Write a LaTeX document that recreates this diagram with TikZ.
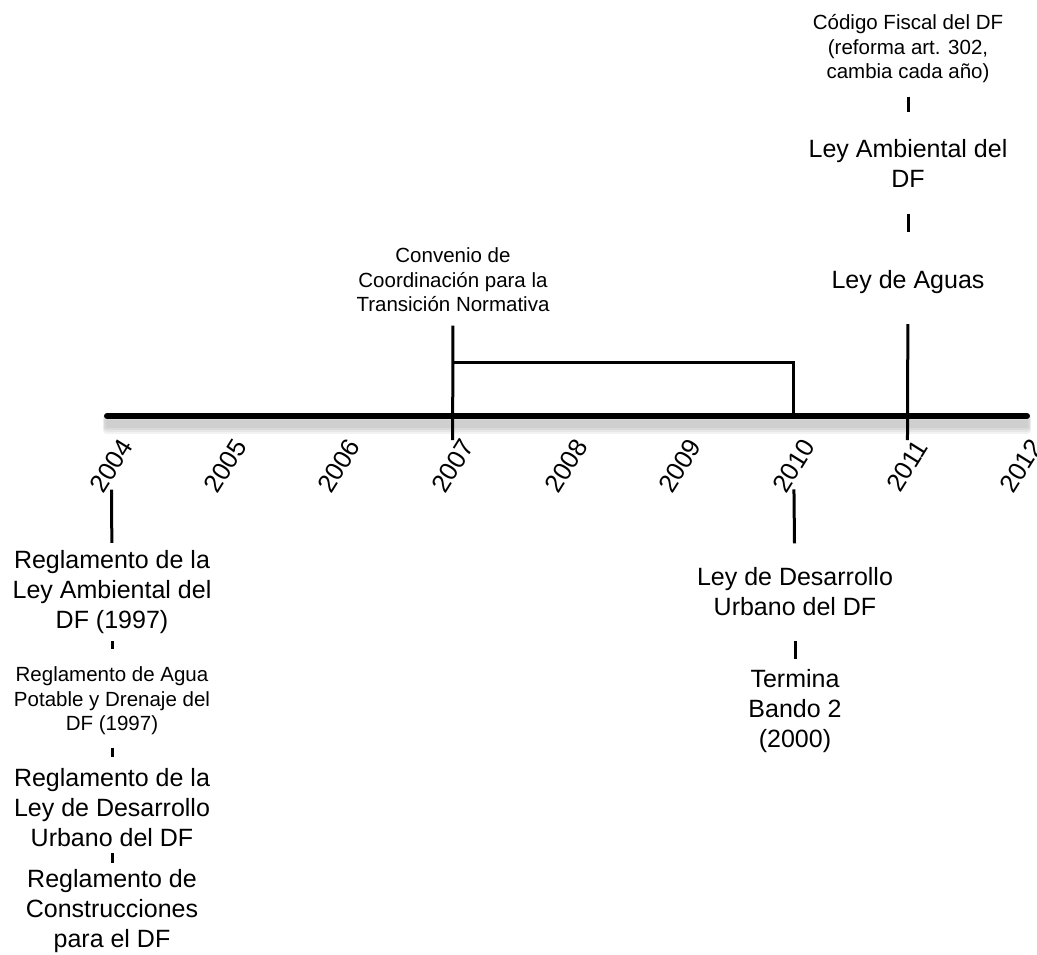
\documentclass[tikz,border=0pt]{standalone}
\usepackage{fontspec}
\setmainfont{Liberation Sans}
\begin{document}
\begin{tikzpicture}[x=1pt, y=-1pt,
    big/.style={align=center, font=\fontsize{25}{30}\selectfont},
    small/.style={align=center, font=\fontsize{20.5}{24.5}\selectfont},
    year/.style={rotate=58, font=\fontsize{25.5}{30}\selectfont},
    link/.style={line width=3pt},
    axis/.style={line width=6pt, line cap=round}]
    \useasboundingbox (0,0) rectangle (1037,954);
    \coordinate (a0) at (107,416);
    \coordinate (a1) at (1027,416);
    \foreach \d in {2,4,...,14}
        \draw[line width=8pt, line cap=round, opacity=0.05, transform canvas={yshift=-\d pt}] (a0) -- (a1);
    \draw[axis] (a0) -- (a1);
    \foreach \y [count=\i from 0] in {2004,...,2012}
        \node[year] (y\y) at ({111.5+113.7*\i},466) {\y};
    \node[small] (codigo) at (908,49) {Código Fiscal del DF\\(reforma art. 302,\\cambia cada año)};
    \node[big] (ambiental) at (908,163) {Ley Ambiental del\\DF};
    \node[big] (aguas) at (908,282) {Ley de Aguas};
    \node[small] (convenio) at (453,280) {Convenio de\\Coordinación para la\\Transición Normativa};
    \node[big] (reg1) at (112,592) {Reglamento de la\\Ley Ambiental del\\DF (1997)};
    \node[small] (reg2) at (112,701) {Reglamento de Agua\\Potable y Drenaje del\\DF (1997)};
    \node[big] (reg3) at (112,808) {Reglamento de la\\Ley de Desarrollo\\Urbano del DF};
    \node[big] (reg4) at (112,911) {Reglamento de\\Construcciones\\para el DF};
    \node[big] (leydu) at (795,592) {Ley de Desarrollo\\Urbano del DF};
    \node[big] (bando) at (795,711) {Termina\\Bando 2\\(2000)};
    \coordinate (brk) at (452.6,362);
    \coordinate (t2010) at (793.7,416);
    \draw[link] (brk) -| (t2010);
    \draw[link, shorten <=10pt, shorten >=23pt] (codigo) -- (ambiental);
    \draw[link, shorten <=23pt, shorten >=35pt] (ambiental) -- (aguas);
    \draw[link, shorten <=27pt, shorten >=2pt] (aguas) -- (y2011);
    \draw[link, shorten <=10pt, shorten >=2pt] (convenio) -- (y2007);
    \draw[link, shorten >=4pt] (y2004) -- (reg1);
    \draw[link, shorten >=21pt] (y2010) -- (leydu);
    \draw[link, shorten <=21pt, shorten >=7pt] (leydu) -- (bando);
    \draw[link, shorten <=4pt, shorten >=14pt] (reg1) -- (reg2);
    \draw[link, shorten <=9pt, shorten >=8pt] (reg2) -- (reg3);
    \draw[link, shorten <=2.5pt, shorten >=2.5pt] (reg3) -- (reg4);
\end{tikzpicture}
\end{document}
